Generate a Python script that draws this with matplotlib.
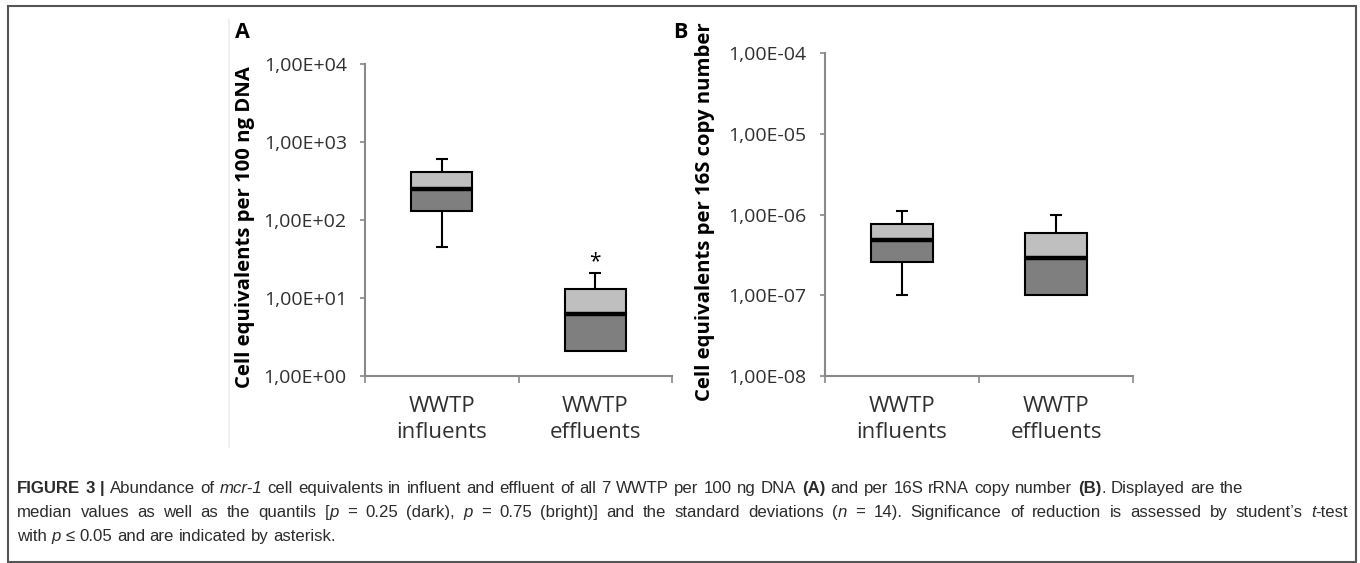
import re
import matplotlib
matplotlib.use("Agg")
import matplotlib.pyplot as plt
from matplotlib.patches import Rectangle
from matplotlib.lines import Line2D

W, H = 1360, 563

categories = ["WWTP\ninfluents", "WWTP\neffluents"]

# panel A: cell equivalents per 100 ng DNA
a_low = [45, 2.1]
a_q1 = [130, 2.1]
a_med = [250, 6.2]
a_q3 = [410, 13]
a_high = [600, 21]
a_ticks = [1, 10, 100, 1000, 10000]
a_ticklabels = ["1,00E+00", "1,00E+01", "1,00E+02", "1,00E+03", "1,00E+04"]

# panel B: cell equivalents per 16S copy number
b_low = [1.0e-7, 1.0e-7]
b_q1 = [2.6e-7, 1.0e-7]
b_med = [4.8e-7, 2.9e-7]
b_q3 = [7.6e-7, 5.9e-7]
b_high = [1.1e-6, 1.0e-6]
b_ticks = [1e-8, 1e-7, 1e-6, 1e-5, 1e-4]
b_ticklabels = ["1,00E-08", "1,00E-07", "1,00E-06", "1,00E-05", "1,00E-04"]

DARK = "#7f7f7f"
LIGHT = "#bfbfbf"
AXC = "#898989"
FONT = "Open Sans"

fig = plt.figure(figsize=(W / 100, H / 100), dpi=100)


def fx(x):
    return x / W


def fy(y):
    return 1 - y / H


def boxpanel(rect, low, q1, med, q3, high, ticks, ticklabels, ylabel, ylab_xy):
    l, t, r, b = rect
    ax = fig.add_axes([fx(l), fy(b), fx(r - l), (b - t) / H])
    ax.set_yscale("log")
    ax.set_ylim(ticks[0], ticks[-1])
    ax.set_xlim(0, 2)
    xs = [0.5, 1.5]
    w = 0.4
    ax.bar(xs, [m - q for m, q in zip(med, q1)], bottom=q1, width=w,
           color=DARK, edgecolor="black", linewidth=1.5, zorder=3)
    ax.bar(xs, [q - m for q, m in zip(q3, med)], bottom=med, width=w,
           color=LIGHT, edgecolor="black", linewidth=1.5, zorder=3)
    for x, lo, a, m, c, hi in zip(xs, low, q1, med, q3, high):
        ax.plot([x - w / 2, x + w / 2], [m, m], color="black", lw=3.2,
                zorder=4, solid_capstyle="butt")
        ax.vlines(x, c, hi, color="black", lw=1.5, zorder=2)
        ax.hlines(hi, x - 0.04, x + 0.04, color="black", lw=1.5, zorder=2)
        if lo < a:
            ax.vlines(x, lo, a, color="black", lw=1.5, zorder=2)
            ax.hlines(lo, x - 0.04, x + 0.04, color="black", lw=1.5, zorder=2)
    for s in ["top", "right"]:
        ax.spines[s].set_visible(False)
    for s in ["left", "bottom"]:
        ax.spines[s].set_color(AXC)
        ax.spines[s].set_linewidth(1.5)
    ax.set_yticks(ticks)
    ax.set_yticklabels(ticklabels, fontfamily=FONT, fontsize=14,
                       color="#303030")
    ax.yaxis.set_minor_locator(matplotlib.ticker.NullLocator())
    ax.tick_params(axis="y", length=3.6, width=1.2, color=AXC, pad=9.5)
    ax.set_xticks(xs)
    ax.set_xticklabels(categories, fontfamily=FONT, fontsize=16,
                       color="#303030", linespacing=1.3)
    ax.set_xticks([0, 1, 2], minor=True)
    ax.tick_params(axis="x", which="major", length=0, pad=14.5)
    ax.tick_params(axis="x", which="minor", length=5, width=1.2, color=AXC,
                   direction="out")
    fig.text(fx(ylab_xy[0]), fy(ylab_xy[1]), ylabel, rotation=90,
             fontfamily=FONT, fontweight="bold", fontsize=14.6,
             ha="center", va="center")
    return ax


axA = boxpanel((365, 64, 672, 376), a_low, a_q1, a_med, a_q3, a_high,
               a_ticks, a_ticklabels, "Cell equivalents per 100 ng DNA",
               (245, 227))
axA.text(1.5, 29, "*", ha="center", va="center", fontsize=15,
         fontfamily=FONT)
boxpanel((825, 53, 1133, 376), b_low, b_q1, b_med, b_q3, b_high,
         b_ticks, b_ticklabels, "Cell equivalents per 16S copy number",
         (705, 212))

fig.text(fx(242), fy(32), "A", fontfamily=FONT, fontweight="bold",
         fontsize=15.5, ha="center", va="center")
fig.text(fx(680), fy(32), "B", fontfamily=FONT, fontweight="bold",
         fontsize=15.5, ha="center", va="center")

# frame and rules
fig.add_artist(Rectangle((fx(8), fy(562)), fx(1348), 556 / H, fill=False,
                         edgecolor="#555555", lw=1.5,
                         transform=fig.transFigure))
fig.add_artist(Line2D([fx(229), fx(229)], [fy(20), fy(447)], color="#ececec",
                      lw=1.2, transform=fig.transFigure))

# caption, built word by word
CAP = "Liberation Sans"
CAPSIZE = 12.1
cap_lines = [
    [("FIGURE 3 | ", "bold", "normal"), ("Abundance of ", "normal", "normal"),
     ("mcr-1", "normal", "italic"),
     (" cell equivalents in influent and effluent of all 7 WWTP per 100 ng DNA ",
      "normal", "normal"),
     ("(A)", "bold", "normal"), (" and per 16S rRNA copy number ", "normal", "normal"),
     ("(B)", "bold", "normal"), (". Displayed are the", "normal", "normal")],
    [("median values as well as the quantils [", "normal", "normal"),
     ("p", "normal", "italic"), (" = 0.25 (dark), ", "normal", "normal"),
     ("p", "normal", "italic"), (" = 0.75 (bright)] and the standard deviations (",
                                 "normal", "normal"),
     ("n", "normal", "italic"),
     (" = 14). Significance of reduction is assessed by student\u2019s ",
      "normal", "normal"),
     ("t", "normal", "italic"), ("-test", "normal", "normal")],
    [("with ", "normal", "normal"), ("p", "normal", "italic"),
     (" \u2264 0.05 and are indicated by asterisk.", "normal", "normal")],
]
cap_y = [493, 517, 541]
cap_end = [1243, 1348, None]

fig.canvas.draw()
renderer = fig.canvas.get_renderer()


def text_w(s, weight="normal", style="normal"):
    t = fig.text(0, 0, s, fontfamily=CAP, fontsize=CAPSIZE,
                 fontweight=weight, fontstyle=style)
    w = t.get_window_extent(renderer).width
    t.remove()
    return w


space_w = text_w("a a") - text_w("aa")

for pieces, y, end in zip(cap_lines, cap_y, cap_end):
    tokens = []
    for txt, weight, style in pieces:
        for tok in re.split(r"( )", txt):
            if tok:
                tokens.append((tok, weight, style))
    natural = sum(space_w if tok == " " else text_w(tok, wt, st)
                  for tok, wt, st in tokens)
    nspace = sum(1 for tok, _, _ in tokens if tok == " ")
    extra = 0 if end is None else (end - 17 - natural) / nspace
    x = 17
    for tok, weight, style in tokens:
        if tok == " ":
            x += space_w + extra
            continue
        t = fig.text(fx(x), fy(y), tok, fontfamily=CAP, fontsize=CAPSIZE,
                     fontweight=weight, fontstyle=style, color="#2b2b2b",
                     ha="left", va="baseline")
        x += t.get_window_extent(renderer).width

fig.savefig("out.png", dpi=100)
